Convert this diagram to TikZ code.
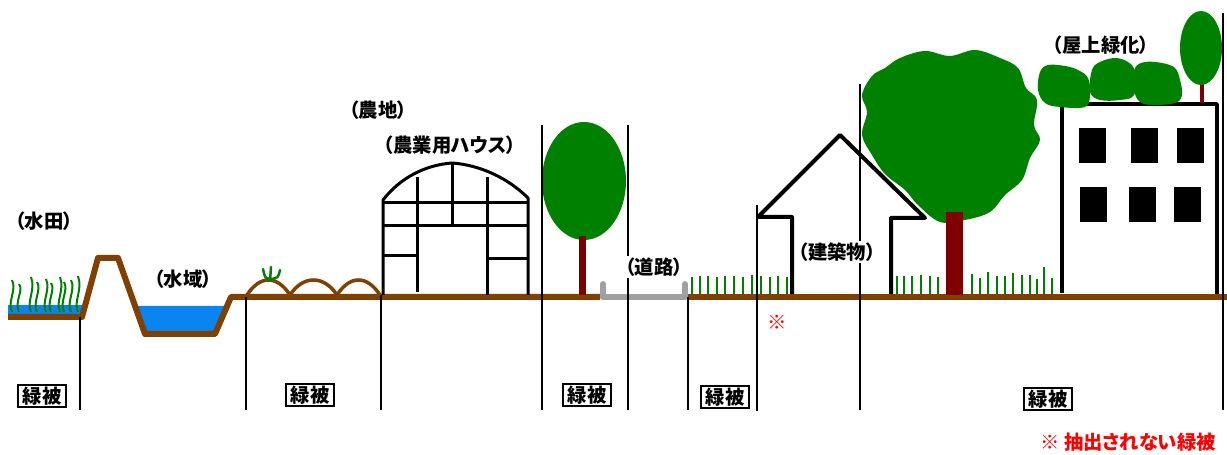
\documentclass[tikz,border=0pt]{standalone}
\usepackage{fontspec}
\usepackage{tikz}
\newfontfamily\jpfont[RawFeature=+palt]{Noto Sans CJK JP}
\definecolor{lgreen}{HTML}{008000}
\definecolor{lbrown}{HTML}{804000}
\definecolor{ltrunk}{HTML}{800000}
\definecolor{lwater}{HTML}{0A84F0}
\definecolor{lroad}{HTML}{A0A0A0}
\definecolor{lred}{HTML}{FF0000}

\tikzset{
  ground/.style={draw=lbrown, line width=0.12cm, line join=round},
  divider/.style={draw=black, line width=0.04cm},
  grass/.style={draw=lgreen, line width=0.04cm},
  frame/.style={draw=black, line join=round},
  areaname/.style={font=\jpfont\bfseries\fontsize{11}{13}\selectfont, fill=white, inner sep=1pt},
  coverbox/.style={draw=black, line width=0.045cm, fill=white, inner xsep=2.5pt, inner ysep=1pt,
    font=\jpfont\bfseries\fontsize{11}{13}\selectfont},
}

\begin{document}
\begin{tikzpicture}[x=0.02cm, y=-0.02cm]
    \useasboundingbox (0,0) rectangle (1227,455);

    % Water: paddy and pond
    \fill[lwater] (8,305) rectangle (82,316);
    \fill[lwater] (135,306) -- (226,306) -- (215,334) -- (145,334) -- cycle;

    % Paddy rice
    \foreach \x/\t in {12/280,19/284,31/277,37/282,46/279,51/283,60/277,64/282,71/280,78/276}
        \draw[grass] (\x,312) .. controls (\x-5,302) and (\x+5,290) .. (\x,\t);

    % Ground line (gap for the road)
    \draw[ground] (8,317) -- (82,317) -- (98,258) -- (118,258) -- (145,334) -- (215,334)
        -- (231,297) -- (600,297);
    \draw[ground] (688,297) -- (1227,297);

    % Field ridges and sprout
    \draw[lbrown, line width=0.07cm, line cap=round]
        (247,295) .. controls (260,275) and (277,275) .. (290,295)
        .. controls (303,275) and (324,275) .. (337,295)
        .. controls (350,275) and (367,275) .. (380,295);
    \draw[lgreen, line width=0.05cm, line cap=round] (270,281) -- (271,267);
    \draw[lgreen, line width=0.05cm, line cap=round] (270,279) .. controls (265,278) .. (263,269);
    \draw[lgreen, line width=0.05cm, line cap=round] (271,279) .. controls (278,278) .. (280,270);

    % Greenhouse
    \draw[frame, line width=0.06cm] (383,295) -- (383,200)
        .. controls (400,178) and (425,165) .. (452,163)
        .. controls (480,165) and (508,178) .. (528,198) -- (528,295);
    \draw[frame, line width=0.06cm] (417,177) -- (417,292);
    \draw[frame, line width=0.06cm] (487,177) -- (487,295);
    \draw[frame, line width=0.06cm] (452,163) -- (452,226);
    \draw[frame, line width=0.06cm] (383,203) -- (528,203);
    \draw[frame, line width=0.06cm] (383,226) -- (528,226);
    \draw[frame, line width=0.06cm] (383,256) -- (417,256);
    \draw[frame, line width=0.06cm] (487,259) -- (528,259);

    % Roadside tree
    \fill[lgreen] (584,181) ellipse [x radius=42, y radius=59];
    \fill[ltrunk] (579,236) rectangle (586,295);

    % Road
    \draw[lroad, line width=0.12cm, line cap=round, line join=round]
        (603,284) -- (603,297) -- (685,297) -- (685,284);

    % Grass strips
    \foreach \x/\t in {692/277,700/276,708/276,717/277,725/276,734/276,743/277,752/275,761/276,770/277,778/276,787/277}
        \draw[grass] (\x,294) -- (\x,\t);
    \foreach \x/\t in {897/276,904/276,912/276,921/275,930/276,938/277,972/274,980/278,988/272,997/276,1005/276,1013/273,1022/275,1030/275,1037/279,1044/267,1052/278}
        \draw[grass] (\x,294) -- (\x,\t);

    % Large tree
    \fill[lgreen] plot[smooth cycle, tension=0.6] coordinates {
        (900,58) (925,51) (950,56) (975,50) (1000,58) (1018,68) (1026,88) (1037,100)
        (1034,125) (1040,140) (1030,158) (1022,180) (1005,195) (990,212) (965,220)
        (940,222) (918,205) (905,190) (885,174) (872,155) (862,135) (867,112)
        (862,95) (872,76) (885,68)};
    \fill[ltrunk] (946,212) rectangle (963,295);

    % House
    \draw[frame, line width=0.08cm] (792,294) -- (792,217) -- (758,217) -- (840,135)
        -- (925,218) -- (891,218) -- (891,294);

    % Building with roof garden
    \draw[frame, line width=0.07cm] (1062,293) -- (1062,104) -- (1217,104) -- (1217,294);
    \foreach \x/\y in {1079/128,1131/128,1177/128,1080/187,1129/187,1174/187}
        \fill[black] (\x,\y) rectangle ++(27,35);
    \fill[lgreen] plot[smooth cycle, tension=0.6] coordinates {
        (1040,72) (1048,65) (1065,66) (1078,70) (1088,78) (1090,95) (1085,107)
        (1060,107) (1045,103) (1038,90)};
    \fill[lgreen] plot[smooth cycle, tension=0.6] coordinates {
        (1092,70) (1100,62) (1115,58) (1128,62) (1135,72) (1134,95) (1120,100)
        (1100,100) (1090,92)};
    \fill[lgreen] plot[smooth cycle, tension=0.6] coordinates {
        (1135,68) (1145,62) (1162,63) (1175,68) (1180,80) (1182,95) (1175,103)
        (1150,105) (1138,100) (1133,85)};
    \fill[ltrunk] (1200,82) rectangle (1204,103);
    \fill[lgreen] (1201,48) ellipse [x radius=21, y radius=37];

    % Dividers
    \draw[divider] (80,317) -- (80,410);
    \draw[divider] (246,297) -- (246,410);
    \draw[divider] (381,295) -- (381,410);
    \draw[divider] (542,125) -- (542,410);
    \draw[divider] (628,125) -- (628,410);
    \draw[divider] (688,297) -- (688,410);
    \draw[divider] (757,205) -- (757,411);
    \draw[divider] (860,84) -- (860,410);
    \draw[divider] (1223,13) -- (1223,410);

    % Area names
    \node[areaname] (paddy) at (44,221) {（水田）};
    \node[areaname] (pond) at (183,279) {（水域）};
    \node[areaname] (farm) at (378,110) {（農地）};
    \node[areaname] (house) at (450,145) {（農業用ハウス）};
    \node[areaname] (road) at (654,267) {（道路）};
    \node[areaname] (bldg) at (837,252) {（建築物）};
    \node[areaname] (roof) at (1101,45) {（屋上緑化）};

    % Green cover boxes
    \node[coverbox] (cov1) at (42,396) {緑被};
    \node[coverbox] (cov2) at (310,395) {緑被};
    \node[coverbox] (cov3) at (587,395) {緑被};
    \node[coverbox] (cov4) at (725,397) {緑被};
    \node[coverbox] (cov5) at (1048,399) {緑被};

    % Note
    \node[areaname, text=lred, fill=none] (mark) at (777,322) {※};
    \node[areaname, text=lred, fill=none] (note) at (1128,442) {※ 抽出されない緑被};
\end{tikzpicture}
\end{document}
